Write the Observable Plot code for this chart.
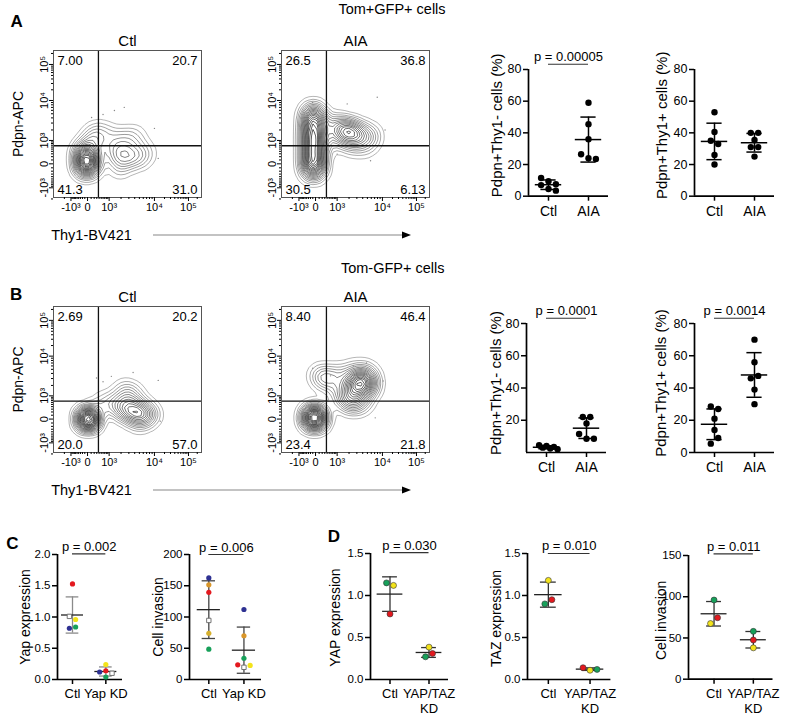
<!DOCTYPE html>
<html><head><meta charset="utf-8">
<script src="https://cdn.jsdelivr.net/npm/d3@7"></script>
<script src="https://cdn.jsdelivr.net/npm/@observablehq/plot@0.6"></script>
<style>
body{margin:0;background:#fff;font-family:"Liberation Sans",Arial,Helvetica,sans-serif;}
#root{position:relative;width:785px;height:717px;overflow:hidden;background:#fff;}
.t{position:absolute;transform:translate(-50%,-50%);white-space:nowrap;color:#000;line-height:1;}
</style></head><body><div id="root"></div>
<script>
// ---------------- DATA ----------------
// Flow cytometry (biexponential axes)
const flowTicks = [-1000, 0, 1000, 10000, 100000];
const flowTickText = ["-10³", "0", "10³", "10⁴", "10⁵"];
const gateX = 370, gateY = 670;
// population anchors: [Thy1, Pdpn, relative weight]
const popA_ctl = [[-37,-93,4],[0,112,4],[-118,351,3],[112,1074,1.5],[373,1822,1],
  [1303,351,1.5],[2530,240,2],[4570,172,1.5],[6640,351,0.8],[2270,1074,1.2],[4150,1234,1],[1020,1234,1],[1840,-93,1]];
const popA_aia = [[-76,-148,3],[-76,112,3],[-76,482,3],[-76,1074,3],[-76,2058,3],[-76,3670,2.5],[-76,5650,1.5],
  [745,2610,1.2],[1470,2058,1.8],[2270,1820,1.8],[3770,1610,1.3],[6060,1410,0.8],[2270,800,1],[4570,685,0.8],[950,1074,0.8]];
const popB_ctl = [[13,0,6],[1303,482,1],[2270,313,1.5],[3770,240,2],[6060,172,1.5],[8770,112,0.7],
  [3770,1074,1],[2270,1410,0.8],[4800,-41,1],[516,580,0.6]];
const popB_aia = [[-37,32,6],[3590,2190,2.5],[5510,2058,1.5],[2270,1820,1.5],[2160,580,1.5],[3770,685,1.2],
  [1303,1074,1],[373,2610,1],[112,3670,0.8],[950,3670,0.8],[4800,4090,1],[2530,4090,1]];
// scattered single events: [Thy1, Pdpn]
const evA_ctl = [[115,4100],[1380,5940],[2370,7000],[10000,2200],[13000,145],[600,4800]];
const evA_aia = [[1810,8400],[7900,12400],[5800,80],[1000,290],[-110,9000],[12000,2000]];
const evB_ctl = [[290,3100],[1150,3400],[3700,4200],[13000,2700],[15000,-50],[600,2500]];
const evB_aia = [[-100,5300],[570,3500],[4800,7000],[10500,2600],[7200,30],[2500,6000]];
// quadrant percentages: [UL, UR, LL, LR]
const quadA_ctl = ["7.00", "20.7", "41.3", "31.0"];
const quadA_aia = ["26.5", "36.8", "30.5", "6.13"];
const quadB_ctl = ["2.69", "20.2", "20.0", "57.0"];
const quadB_aia = ["8.40", "46.4", "23.4", "21.8"];

// Dot plots A/B
const groupsAB = ["Ctl", "AIA"];
const A1_ctl = [11.5, 9.5, 7.5, 7, 4.5, 3.5];
const A1_aia = [59, 45.5, 36, 26.5, 24, 23.5];
const A2_ctl = [53, 40.5, 35, 33, 26, 20];
const A2_aia = [40, 40, 35.5, 31, 31, 25];
const B1_ctl = [4.5, 4, 3.5, 3, 2.5, 2];
const B1_aia = [22, 22, 18, 11.5, 8.5, 8.5];
const B2_ctl = [28.5, 27, 21, 14, 5.5, 9];
const B2_aia = [70, 56, 46, 47.5, 39, 30];
const pA1 = "p = 0.00005", pB1 = "p = 0.0001", pB2 = "p = 0.0014";

// Panel C / D
const sampleColors = {blue: "#2e3192", orange: "#d9962a", gold: "#d6b02e", red: "#e3191f", yellow: "#f3e31b", green: "#17a05a", open: "#ffffff"};
const groupsC = ["Ctl", "Yap KD"];
const C1_ctl_v = [1.53, 1.01, 0.96, 0.82, 0.84], C1_ctl_s = ["red", "open", "yellow", "blue", "green"];
const C1_kd_v = [0.24, 0.12, 0.14, 0.10, 0.04], C1_kd_s = ["yellow", "blue", "red", "open", "green"];
const C2_ctl_v = [162.5, 151.5, 139.5, 94.5, 74, 48.5], C2_ctl_s = ["blue", "orange", "red", "open", "gold", "green"];
const C2_kd_v = [112, 70, 34, 23.5, 19.5, 22.5], C2_kd_s = ["blue", "orange", "green", "red", "open", "yellow"];
const pC1 = "p = 0.002", pC2 = "p = 0.006";
const groupsD = ["Ctl", "YAP/TAZ\nKD"];
const D1_ctl_v = [1.15, 1.12, 0.78], D1_ctl_s = ["green", "yellow", "red"];
const D1_kd_v = [0.385, 0.27, 0.31], D1_kd_s = ["yellow", "green", "red"];
const D2_ctl_v = [1.18, 0.90, 0.95], D2_ctl_s = ["yellow", "green", "red"];
const D2_kd_v = [0.14, 0.11, 0.12], D2_kd_s = ["red", "yellow", "green"];
const D3_ctl_v = [96, 67.5, 74.5], D3_ctl_s = ["green", "yellow", "red"];
const D3_kd_v = [58, 38, 47.5], D3_kd_s = ["green", "yellow", "red"];
const pD1 = "p = 0.030", pD2 = "p = 0.010", pD3 = "p = 0.011";

// ---------------- DRAWING ----------------
const FONT = '"Liberation Sans", Arial, Helvetica, sans-serif';
const root = document.getElementById("root");
function put(svg, left, top) {
  svg.style.position = "absolute"; svg.style.left = left + "px"; svg.style.top = top + "px";
  root.appendChild(svg);
}
function label(str, cx, cy, size, weight) {
  const d = document.createElement("div");
  d.className = "t"; d.textContent = str;
  d.style.left = cx + "px"; d.style.top = cy + "px";
  d.style.fontSize = size + "px"; if (weight) d.style.fontWeight = weight;
  root.appendChild(d);
}

// biexponential-like axis: symlog units, piecewise-mapped like the cytometer display
const sl = v => Math.sign(v) * Math.log10(1 + Math.abs(v) / 500);
const xKnotsV = [-5300, -1000, 0, 1000, 10000, 100000, 280000];
const xKnotsF = [0, 0.118, 0.23, 0.376, 0.682, 0.912, 1];
const yKnotsV = [-1840, -1000, 0, 1000, 10000, 100000, 241000];
const yKnotsF = [0, 0.066, 0.229, 0.388, 0.66, 0.905, 1];
const tickMap = new Map(flowTicks.map((t, i) => [sl(t), flowTickText[i]]));
const minorTicks = [-2000, ...d3.range(-900, 1000, 100).filter(v => v !== 0),
  ...d3.range(2000, 10000, 1000), ...d3.range(20000, 100000, 10000), 200000];

function flowPlot(o) {
  const mL = 50, mT = 28, mR = 6, mB = 32;
  const svg = Plot.plot({
    width: mL + o.w + mR, height: mT + o.h + mB,
    marginLeft: mL, marginRight: mR, marginTop: mT, marginBottom: mB,
    style: {fontFamily: FONT, fontSize: "11px", background: "transparent", overflow: "visible", color: "#000"},
    x: {type: "linear", domain: xKnotsV.map(sl), range: xKnotsF.map(f => mL + f * o.w)},
    y: {type: "linear", domain: yKnotsV.map(sl), range: yKnotsF.map(f => mT + o.h - f * o.h)},
    color: {type: "sqrt", range: ["#b8b8b8", "#000000"]},
    marks: [
      Plot.density(o.pop, {x: d => sl(d[0]), y: d => sl(d[1]), weight: d => d[2], bandwidth: 6, thresholds: 20, stroke: "density", strokeWidth: 0.65}),
      Plot.dot(o.ev, {x: d => sl(d[0]), y: d => sl(d[1]), r: 0.7, fill: "#888"}),
      Plot.ruleX([gateX], {x: d => sl(d), stroke: "#111", strokeWidth: 1.3}),
      Plot.ruleY([gateY], {y: d => sl(d), stroke: "#111", strokeWidth: 1.3}),
      Plot.frame({stroke: "#555"}),
      Plot.axisX({ticks: flowTicks.map(sl), tickFormat: d => tickMap.get(d), tickSize: 4, tickPadding: 2, label: null}),
      Plot.axisX({ticks: minorTicks.map(sl), tickFormat: () => "", tickSize: 2, label: null}),
      Plot.axisY({ticks: flowTicks.map(sl), tickFormat: d => tickMap.get(d), tickSize: 4, tickPadding: 2, tickRotate: -90, label: null}),
      Plot.axisY({ticks: minorTicks.map(sl), tickFormat: () => "", tickSize: 2, label: null}),
      Plot.text([o.quads[0]], {text: d => d, frameAnchor: "top-left", dx: 4, dy: 5, textAnchor: "start", lineAnchor: "top", fontSize: 13}),
      Plot.text([o.quads[1]], {text: d => d, frameAnchor: "top-right", dx: -4, dy: 5, textAnchor: "end", lineAnchor: "top", fontSize: 13}),
      Plot.text([o.quads[2]], {text: d => d, frameAnchor: "bottom-left", dx: 4, dy: -4, textAnchor: "start", lineAnchor: "bottom", fontSize: 13}),
      Plot.text([o.quads[3]], {text: d => d, frameAnchor: "bottom-right", dx: -4, dy: -4, textAnchor: "end", lineAnchor: "bottom", fontSize: 13}),
      Plot.text([o.title], {text: d => d, frameAnchor: "top", dy: -5, textAnchor: "middle", lineAnchor: "bottom", fontSize: 15}),
      o.ylabel ? Plot.text([o.ylabel], {text: d => d, frameAnchor: "left", dx: -35, rotate: -90, textAnchor: "middle", lineAnchor: "middle", fontSize: 14}) : null
    ]
  });
  put(svg, o.left - mL, o.top - mT);
}

function dotPlot(o) {
  const mL = 48, mT = 34, mR = 8, mB = 46;
  const xd = o.xDomain || [0.5, 2.5];
  const yd = o.yDomain;
  const r = o.r;
  const pxX = o.w / (xd[1] - xd[0]), pxY = o.h / (yd[1] - yd[0]);
  const dots = [], stats = [];
  o.values.forEach((vals, gi) => {
    const cols = o.samples ? o.samples[gi] : null;
    const items = vals.map((v, i) => ({v, i, s: cols ? cols[i] : "black"}));
    const sorted = items.slice().sort((a, b) => b.v - a.v || a.i - b.i);
    const rows = [];
    for (const it of sorted) {
      const row = rows[rows.length - 1];
      if (row && row.length < 3 && (row[0].v - it.v) * pxY < 2 * r) row.push(it);
      else rows.push([it]);
    }
    const d = 2 * r + 1;
    let prevTop = null, prevShift = 0;
    for (const row of rows) {
      const top = row[0].v;
      row.sort((a, b) => a.i - b.i);
      let shift = 0;
      if (prevTop != null && (prevTop - top) * pxY < 2 * r) shift = prevShift === 0 ? d / 2 : 0;
      row.forEach((t, k) => { t.off = (k - (row.length - 1) / 2) * d + shift; });
      prevTop = top; prevShift = shift;
    }
    items.forEach(t => dots.push({x: gi + 1 + t.off / pxX, y: t.v, s: t.s}));
    const m = d3.mean(vals), sd = d3.deviation(vals);
    stats.push({x: gi + 1, m, lo: m - sd, hi: m + sd});
  });
  const circles = dots.filter(d => d.s !== "open");
  const squares = dots.filter(d => d.s === "open");
  const barC = o.barColor || "#000", meanC = o.meanColor || "#000", lw = o.lw || 1.5;
  const svg = Plot.plot({
    width: mL + o.w + mR, height: mT + o.h + mB,
    marginLeft: mL, marginRight: mR, marginTop: mT, marginBottom: mB,
    style: {fontFamily: FONT, fontSize: o.tickFont + "px", background: "transparent", overflow: "visible", color: "#000"},
    x: {domain: xd}, y: {domain: yd},
    marks: [
      Plot.ruleX([xd[0]], {stroke: "#000", strokeWidth: 1.7}),
      Plot.ruleY([yd[0]], {stroke: "#000", strokeWidth: 1.7}),
      Plot.axisY({ticks: o.yTicks, tickFormat: o.fmt, tickSize: 5, tickPadding: 2, strokeWidth: 1.5, label: null}),
      Plot.axisX({ticks: [1, 2], tickFormat: v => o.groups[v - 1], tickSize: 5, tickPadding: 3, strokeWidth: 1.5, fontSize: o.catFont || 14, lineHeight: 1.15, label: null}),
      Plot.ruleX(stats, {x: "x", y1: "lo", y2: "hi", stroke: barC, strokeWidth: lw}),
      Plot.ruleY(stats, {y: "lo", x1: d => d.x - 0.19, x2: d => d.x + 0.19, stroke: barC, strokeWidth: lw}),
      Plot.ruleY(stats, {y: "hi", x1: d => d.x - 0.19, x2: d => d.x + 0.19, stroke: barC, strokeWidth: lw}),
      Plot.ruleY(stats, {y: "m", x1: d => d.x - 0.33, x2: d => d.x + 0.33, stroke: meanC, strokeWidth: lw}),
      Plot.dot(circles, {x: "x", y: "y", r, fill: d => o.samples ? sampleColors[d.s] : "#000", stroke: o.dotStroke || "none", strokeWidth: 0.6}),
      Plot.dot(squares, {x: "x", y: "y", r: r * 0.95, symbol: "square", fill: "#fff", stroke: "#666", strokeWidth: 0.9}),
      o.p ? Plot.ruleY([o.pY], {y: d => d, x1: 1, x2: 2, stroke: "#333", strokeWidth: 1.1}) : null,
      o.p ? Plot.text([o.p], {text: d => d, x: 1.5, y: o.pY, dy: -3, textAnchor: "middle", lineAnchor: "bottom", fontSize: 13}) : null,
      Plot.text([o.ylabel], {text: d => d, frameAnchor: "left", dx: o.ldx, dy: o.ldy || 0, rotate: -90, textAnchor: "middle", lineAnchor: "middle", fontSize: o.lfs || 14})
    ]
  });
  put(svg, o.left - mL, o.top - mT);
}

// ---- Panel A ----
flowPlot({left: 52.5, top: 50, w: 148, h: 147, pop: popA_ctl, ev: evA_ctl, quads: quadA_ctl, title: "Ctl", ylabel: "Pdpn-APC"});
flowPlot({left: 281, top: 50, w: 148, h: 147, pop: popA_aia, ev: evA_aia, quads: quadA_aia, title: "AIA"});
dotPlot({left: 528, top: 69.3, w: 80, h: 126.7, yDomain: [0, 80], yTicks: [0, 20, 40, 60, 80], tickFont: 12.5,
  groups: groupsAB, values: [A1_ctl, A1_aia], r: 3.2, p: pA1, pY: 83.3,
  ylabel: "Pdpn+Thy1- cells (%)", ldx: -31, ldy: -7.5, lfs: 15});
dotPlot({left: 694, top: 69.3, w: 80, h: 126.7, yDomain: [0, 80], yTicks: [0, 20, 40, 60, 80], tickFont: 12.5,
  groups: groupsAB, values: [A2_ctl, A2_aia], r: 3.2,
  ylabel: "Pdpn+Thy1+ cells (%)", ldx: -32, ldy: -7.5, lfs: 15});

// ---- Panel B ----
flowPlot({left: 52.5, top: 306, w: 148, h: 146, pop: popB_ctl, ev: evB_ctl, quads: quadB_ctl, title: "Ctl", ylabel: "Pdpn-APC"});
flowPlot({left: 281, top: 306, w: 148, h: 146, pop: popB_aia, ev: evB_aia, quads: quadB_aia, title: "AIA"});
dotPlot({left: 526, top: 323.3, w: 80, h: 129, yDomain: [0, 80], yTicks: [20, 40, 60, 80], tickFont: 12.5,
  groups: groupsAB, values: [B1_ctl, B1_aia], r: 3.2, p: pB1, pY: 83.3,
  ylabel: "Pdpn+Thy1- cells (%)", ldx: -30.5, ldy: -5, lfs: 15});
dotPlot({left: 694, top: 323.3, w: 80, h: 129, yDomain: [0, 80], yTicks: [0, 20, 40, 60, 80], tickFont: 12.5,
  groups: groupsAB, values: [B2_ctl, B2_aia], r: 3.2, p: pB2, pY: 83.3,
  ylabel: "Pdpn+Thy1+ cells (%)", ldx: -33.5, ldy: -5, lfs: 15});

// ---- Panel C ----
const f1 = d3.format(".1f"), f0 = d3.format("d");
dotPlot({left: 56.7, top: 554, w: 65, h: 125, xDomain: [0.55, 2.5], yDomain: [0, 2], yTicks: [0, 0.5, 1, 1.5, 2], fmt: f1, tickFont: 11.5, catFont: 13,
  groups: groupsC, values: [C1_ctl_v, C1_kd_v], samples: [C1_ctl_s, C1_kd_s], r: 2.6, p: pC1, pY: 2.01,
  barColor: "#8a8a8a", meanColor: "#222", lw: 1.3, ylabel: "Yap expression", ldx: -32});
dotPlot({left: 189, top: 554, w: 72, h: 125, xDomain: [0.45, 2.5], yDomain: [0, 200], yTicks: [0, 50, 100, 150, 200], fmt: f0, tickFont: 11.5, catFont: 13,
  groups: groupsC, values: [C2_ctl_v, C2_kd_v], samples: [C2_ctl_s, C2_kd_s], r: 2.6, p: pC2, pY: 200,
  barColor: "#444", meanColor: "#222", lw: 1.3, ylabel: "Cell invasion", ldx: -31});

// ---- Panel D ----
dotPlot({left: 369.5, top: 552.7, w: 78, h: 126, yDomain: [0, 1.5], yTicks: [0, 0.5, 1, 1.5], fmt: f1, tickFont: 11.5, catFont: 13,
  groups: groupsD, values: [D1_ctl_v, D1_kd_v], samples: [D1_ctl_s, D1_kd_s], r: 3, dotStroke: "#333", p: pD1, pY: 1.51,
  barColor: "#333", meanColor: "#222", lw: 1.3, ylabel: "YAP expression", ldx: -34.5, ldy: 1});
dotPlot({left: 527.3, top: 552.7, w: 83.4, h: 126, yDomain: [0, 1.5], yTicks: [0, 0.5, 1, 1.5], fmt: f1, tickFont: 11.5, catFont: 13,
  groups: groupsD, values: [D2_ctl_v, D2_kd_v], samples: [D2_ctl_s, D2_kd_s], r: 3, dotStroke: "#333", p: pD2, pY: 1.5,
  barColor: "#333", meanColor: "#222", lw: 1.3, ylabel: "TAZ expression", ldx: -30.6, ldy: 2});
dotPlot({left: 688.3, top: 555, w: 84.5, h: 123.7, xDomain: [0.35, 2.5], yDomain: [0, 150], yTicks: [0, 50, 100, 150], fmt: f0, tickFont: 11.5, catFont: 13,
  groups: groupsD, values: [D3_ctl_v, D3_kd_v], samples: [D3_ctl_s, D3_kd_s], r: 3, dotStroke: "#333", p: pD3, pY: 152,
  barColor: "#333", meanColor: "#222", lw: 1.3, ylabel: "Cell invasion", ldx: -26.6, ldy: 3});

// ---- Text overlay ----
label("A", 16.7, 21, 17, "bold");
label("B", 16.2, 293.7, 17, "bold");
label("C", 12.5, 543, 17, "bold");
label("D", 334, 535.5, 17, "bold");
label("Tom+GFP+ cells", 392, 9.2, 14.5);
label("Tom-GFP+ cells", 392.7, 267.5, 14.5);
label("Thy1-BV421", 91.5, 235, 14.5);
label("Thy1-BV421", 91.5, 490, 14.5);
const ns = "http://www.w3.org/2000/svg";
const ov = document.createElementNS(ns, "svg");
ov.setAttribute("width", 785); ov.setAttribute("height", 717);
ov.style.position = "absolute"; ov.style.left = "0px"; ov.style.top = "0px"; ov.style.pointerEvents = "none";
[235, 490].forEach(y => {
  const l = document.createElementNS(ns, "line");
  l.setAttribute("x1", 153); l.setAttribute("x2", 404); l.setAttribute("y1", y); l.setAttribute("y2", y);
  l.setAttribute("stroke", "#888"); l.setAttribute("stroke-width", 1.2);
  ov.appendChild(l);
  const p = document.createElementNS(ns, "path");
  p.setAttribute("d", `M402,${y - 3.5} L411,${y} L402,${y + 3.5} Z`);
  p.setAttribute("fill", "#000");
  ov.appendChild(p);
});
root.appendChild(ov);
</script></body></html>
